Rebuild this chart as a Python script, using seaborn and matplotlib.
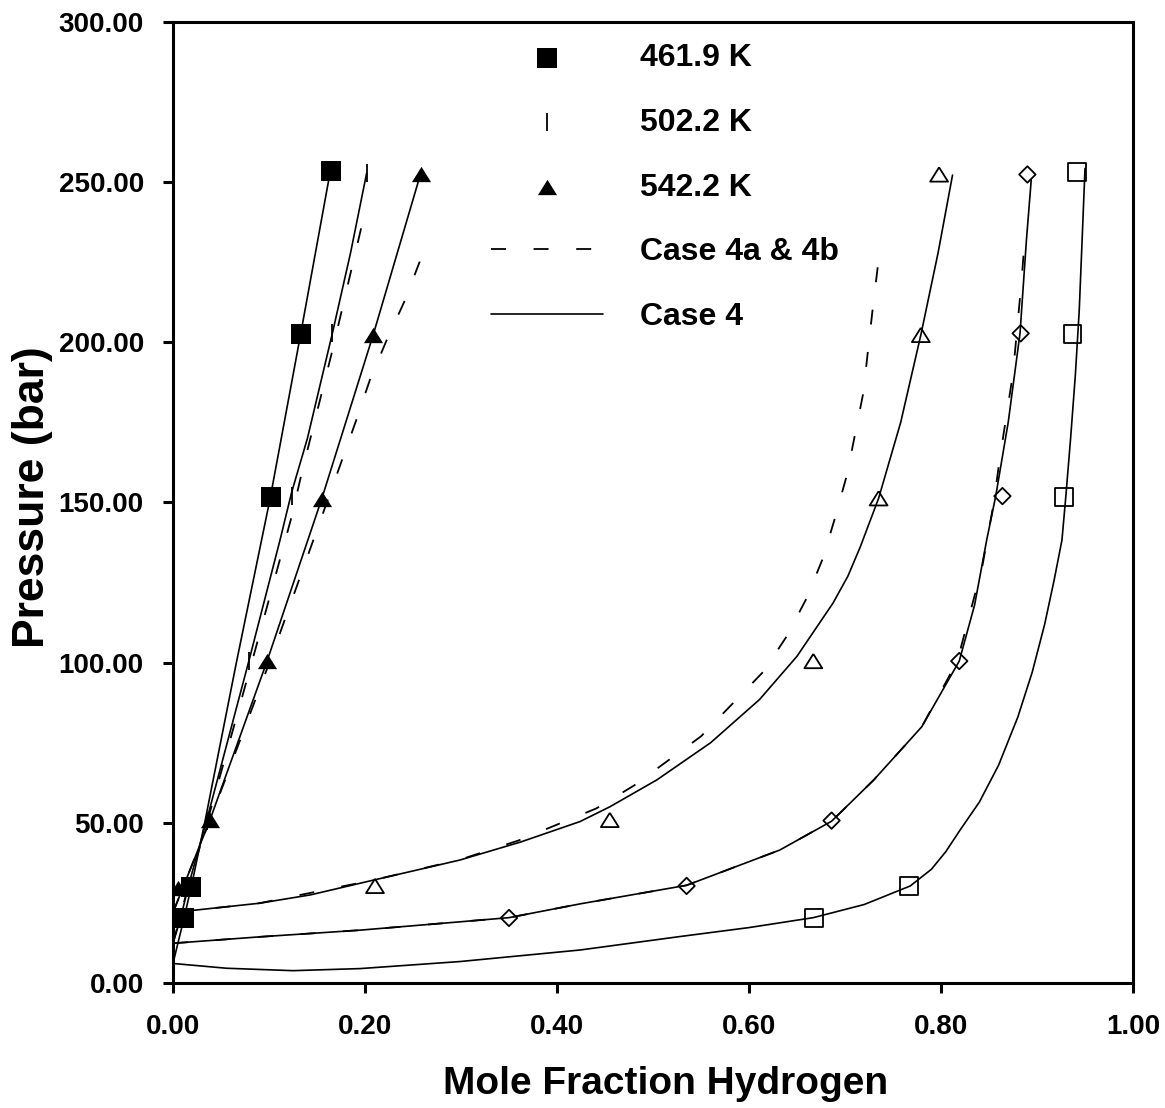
import numpy as np
import pandas as pd
import matplotlib
matplotlib.use("Agg")
import matplotlib.pyplot as plt
import seaborn as sns

# ---------------- data ----------------
# experimental points, liquid side (filled) and vapour side (open)
liq_4619_x = [0.0115, 0.019, 0.102, 0.1333, 0.1646]
liq_4619_p = [20.3, 30.0, 151.8, 202.7, 253.5]
vap_4619_x = [0.668, 0.767, 0.928, 0.937, 0.942]
vap_4619_p = [20.3, 30.3, 151.8, 202.6, 253.3]

liq_5022_x = [0.008, 0.016, 0.035, 0.079, 0.124, 0.166, 0.2017]
liq_5022_p = [20.3, 30.3, 50.7, 100.5, 152.0, 202.8, 252.8]
vap_5022_x = [0.35, 0.535, 0.686, 0.819, 0.864, 0.883, 0.890]
vap_5022_p = [20.3, 30.3, 50.7, 100.5, 152.0, 202.8, 252.4]

liq_5422_x = [0.0056, 0.0385, 0.098, 0.155, 0.2085, 0.258]
liq_5422_p = [29.7, 50.9, 100.5, 151.2, 202.3, 252.7]
vap_5422_x = [0.2104, 0.455, 0.667, 0.735, 0.779, 0.798]
vap_5422_p = [30.3, 50.9, 100.5, 151.3, 202.3, 252.4]

# model curves: Case 4 (solid)
c4_liq_4619_x = [0.0, 0.0115, 0.019, 0.033, 0.066, 0.101, 0.132, 0.163]
c4_liq_4619_p = [6.1, 20.3, 30.0, 50.0, 100.0, 151.0, 201.0, 252.0]
c4_liq_5022_x = [0.0, 0.008, 0.016, 0.035, 0.079, 0.1115, 0.1236, 0.14, 0.166, 0.185, 0.2017]
c4_liq_5022_p = [12.4, 20.3, 30.3, 50.7, 100.5, 138.3, 153.2, 170.0, 202.8, 228.0, 252.8]
c4_liq_5422_x = [0.0, 0.0385, 0.098, 0.155, 0.2085, 0.258]
c4_liq_5422_p = [22.0, 50.9, 100.5, 151.2, 202.3, 252.7]

c4_vap_4619_x = [0.0, 0.056, 0.125, 0.195, 0.299, 0.424, 0.528, 0.60, 0.667, 0.72,
                 0.768, 0.79, 0.805, 0.82, 0.84, 0.86, 0.88, 0.895, 0.908, 0.918,
                 0.926, 0.930, 0.935, 0.940, 0.944, 0.947, 0.950]
c4_vap_4619_p = [6.1, 4.6, 3.85, 4.5, 6.7, 10.3, 14.5, 17.3, 20.4, 24.5,
                 30.3, 35.5, 41.0, 47.8, 56.5, 68.0, 83.0, 97.0, 112.0, 126.0,
                 138.3, 151.8, 170.0, 190.0, 210.0, 232.0, 254.3]
c4_vap_5022_x = [0.0, 0.09, 0.195, 0.299, 0.35, 0.424, 0.535, 0.632, 0.686, 0.73,
                 0.78, 0.819, 0.835, 0.8476, 0.857, 0.870, 0.8823, 0.889, 0.894]
c4_vap_5022_p = [12.4, 14.4, 16.5, 19.1, 20.4, 24.7, 30.5, 41.5, 50.5, 63.4,
                 80.0, 100.5, 118.0, 138.3, 152.0, 175.0, 202.8, 232.0, 250.7]
c4_vap_5422_x = [0.0, 0.09, 0.143, 0.21, 0.299, 0.362, 0.424, 0.455, 0.504, 0.56,
                 0.611, 0.65, 0.6875, 0.703, 0.716, 0.735, 0.758, 0.779, 0.797, 0.812]
c4_vap_5422_p = [22.0, 24.9, 27.5, 32.2, 38.4, 44.0, 50.4, 55.0, 63.4, 75.0,
                 88.5, 102.0, 118.6, 127.0, 136.2, 151.3, 175.0, 202.3, 228.0, 252.2]

# model curves: Case 4a & 4b (dashed)
c4a_liq_5022_x = [0.0, 0.016, 0.036, 0.082, 0.1236, 0.134, 0.1653, 0.198]
c4a_liq_5022_p = [12.4, 30.3, 50.7, 100.0, 145.6, 159.1, 196.6, 238.2]
c4a_liq_5422_x = [0.0, 0.0385, 0.101, 0.1618, 0.191, 0.205, 0.2226, 0.2417, 0.257]
c4a_liq_5422_p = [22.0, 50.9, 100.5, 151.3, 175.8, 188.2, 200.7, 213.2, 225.2]
c4a_vap_5022_x = [0.0, 0.09, 0.195, 0.299, 0.35, 0.424, 0.535, 0.632, 0.686, 0.73,
                  0.78, 0.817, 0.843, 0.855, 0.861, 0.868, 0.875, 0.884, 0.8875]
c4a_vap_5022_p = [12.4, 14.4, 16.5, 19.1, 20.4, 24.7, 30.5, 41.5, 50.5, 63.4,
                  80.0, 100.5, 130.0, 150.0, 163.3, 176.8, 190.3, 219.5, 233.5]
c4a_vap_5422_x = [0.0, 0.09, 0.21, 0.30, 0.36, 0.441, 0.4805, 0.55, 0.615, 0.639,
                  0.660, 0.677, 0.690, 0.702, 0.711, 0.719, 0.724, 0.7295, 0.735]
c4a_vap_5422_p = [22.0, 24.9, 32.2, 38.6, 44.5, 54.5, 61.7, 77.0, 97.2, 108.1,
                  120.1, 132.6, 145.6, 158.6, 172.1, 184.1, 197.6, 212.2, 225.7]

x_ticks = [0.0, 0.2, 0.4, 0.6, 0.8, 1.0]
y_ticks = [0, 50, 100, 150, 200, 250, 300]
legend_labels = ["461.9 K", "502.2 K", "542.2 K", "Case 4a & 4b", "Case 4"]

# ---------------- style ----------------
sns.set_theme(style="ticks")
plt.rcParams["font.family"] = ["Liberation Sans", "DejaVu Sans"]
plt.rcParams["font.weight"] = "bold"
plt.rcParams["axes.labelweight"] = "bold"
plt.rcParams["text.color"] = "black"
plt.rcParams["axes.labelcolor"] = "black"
plt.rcParams["xtick.color"] = "black"
plt.rcParams["ytick.color"] = "black"

fig = plt.figure(figsize=(11.65, 11.08), dpi=100)
ax = fig.add_axes([173 / 1165, 125 / 1108, 960 / 1165, 961 / 1108])

solid_kw = dict(color="black", lw=1.2, sort=False, estimator=None, ax=ax, zorder=2)
dash_kw = dict(color="black", lw=1.3, sort=False, estimator=None, ax=ax, zorder=2,
               linestyle=(0, (8.3, 15.3)))

sns.lineplot(x=c4a_liq_5022_x, y=c4a_liq_5022_p, label=legend_labels[3], **dash_kw)
sns.lineplot(x=c4a_liq_5422_x, y=c4a_liq_5422_p, **dash_kw)
sns.lineplot(x=c4a_vap_5022_x, y=c4a_vap_5022_p, **dash_kw)
sns.lineplot(x=c4a_vap_5422_x, y=c4a_vap_5422_p, **dash_kw)

sns.lineplot(x=c4_liq_4619_x, y=c4_liq_4619_p, label=legend_labels[4], **solid_kw)
sns.lineplot(x=c4_liq_5022_x, y=c4_liq_5022_p, **solid_kw)
sns.lineplot(x=c4_liq_5422_x, y=c4_liq_5422_p, **solid_kw)
sns.lineplot(x=c4_vap_4619_x, y=c4_vap_4619_p, **solid_kw)
sns.lineplot(x=c4_vap_5022_x, y=c4_vap_5022_p, **solid_kw)
sns.lineplot(x=c4_vap_5422_x, y=c4_vap_5422_p, **solid_kw)

tri = [(0, 0.8), (-1, -0.8), (1, -0.8), (0, 0.8)]

sns.scatterplot(x=liq_4619_x, y=liq_4619_p, marker="s", s=190, color="black",
                linewidth=0, ax=ax, zorder=3, label=legend_labels[0])
sns.scatterplot(x=liq_5022_x, y=liq_5022_p, marker="|", s=180, color="black",
                linewidth=1.3, ax=ax, zorder=3, label=legend_labels[1])
sns.scatterplot(x=liq_5422_x, y=liq_5422_p, marker=tri, s=190, color="black",
                linewidth=0, ax=ax, zorder=3, label=legend_labels[2])

sns.scatterplot(x=vap_4619_x, y=vap_4619_p, marker="s", s=165, facecolor="none",
                edgecolor="black", linewidth=1.3, ax=ax, zorder=3)
sns.scatterplot(x=vap_5022_x, y=vap_5022_p, marker="D", s=70, facecolor="none",
                edgecolor="black", linewidth=1.3, ax=ax, zorder=3)
sns.scatterplot(x=vap_5422_x, y=vap_5422_p, marker=tri, s=165, facecolor="none",
                edgecolor="black", linewidth=1.3, ax=ax, zorder=3)

# ---------------- axes ----------------
ax.set_xlim(0, 1)
ax.set_ylim(0, 300)
ax.set_xticks(x_ticks)
ax.set_xticklabels([f"{v:.2f}" for v in x_ticks])
ax.set_yticks(y_ticks)
ax.set_yticklabels([f"{v:.2f}" for v in y_ticks])
for sp in ax.spines.values():
    sp.set_visible(True)
    sp.set_linewidth(2.2)
    sp.set_color("black")
ax.tick_params(axis="both", direction="out", length=7, width=2.2, color="black",
               labelsize=20, labelcolor="black", top=False, right=False)
ax.tick_params(axis="y", pad=14)
ax.tick_params(axis="x", pad=15)
for t in ax.get_xticklabels() + ax.get_yticklabels():
    t.set_fontweight("bold")

ax.set_xlabel("Mole Fraction Hydrogen", fontsize=28, fontweight="bold", va="center",
              color="black")
ax.set_ylabel("Pressure (bar)", fontsize=32, fontweight="bold", va="center",
              color="black")
ax.xaxis.set_label_coords((666 - 173) / 960, (983 - 1084) / 961)
ax.yaxis.set_label_coords((33 - 173) / 960, (983 - 497) / 961)

handles, labels = ax.get_legend_handles_labels()
hmap = dict(zip(labels, handles))
leg = ax.legend([hmap[l] for l in legend_labels], legend_labels, loc="upper left",
                bbox_to_anchor=((491 - 173) / 960, (983 - 43) / 961), frameon=False,
                fontsize=23, handlelength=3.5, handletextpad=1.15, labelspacing=1.09,
                borderpad=0, borderaxespad=0, scatterpoints=1)
for t in leg.get_texts():
    t.set_fontweight("bold")
    t.set_color("black")

fig.savefig("out.png", dpi=100, facecolor="white")
